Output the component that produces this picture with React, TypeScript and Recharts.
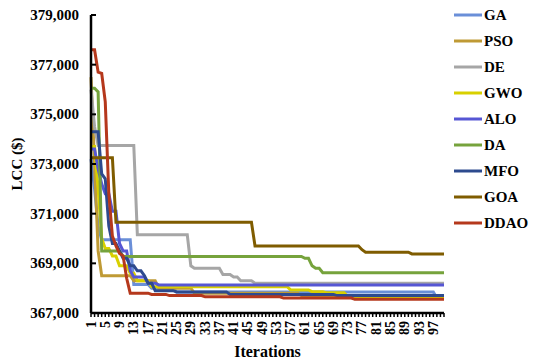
import { Label, Legend, Line, LineChart, XAxis, YAxis } from 'recharts'

// convergence curves
// each series is a list of [iteration, LCC] steps: the value holds until the next step
const iterations = Array.from({ length: 100 }, (_, i) => i + 1)
const yTicks = [367000, 369000, 371000, 373000, 375000, 377000, 379000]

const gaSteps = [
  [1, 373200], [2, 372000], [3, 370500], [4, 369950], [13, 368150],
  [18, 368000], [25, 367850], [98, 367600],
]
const psoSteps = [
  [1, 376500], [2, 373000], [3, 369500], [4, 368500], [13, 368300],
  [20, 368000], [30, 367800], [60, 367700], [75, 367650],
]
const deSteps = [
  [1, 376000], [2, 374500], [3, 373750], [14, 370150], [29, 368900],
  [30, 368800], [38, 368550], [41, 368450], [43, 368300], [47, 368200],
]
const gwoSteps = [
  [1, 373700], [3, 372000], [4, 370000], [5, 369600], [7, 369300],
  [9, 368900], [12, 368600], [14, 368300], [18, 368060], [57, 367930],
  [63, 367860], [67, 367820], [73, 367660],
]
const aloSteps = [
  [1, 373600], [3, 372800], [4, 372200], [5, 371800], [7, 371100],
  [9, 369800], [10, 369500], [12, 368700], [13, 368450], [17, 368200],
  [20, 368130],
]
const daSteps = [
  [1, 376050], [3, 375900], [4, 369500], [10, 369280], [61, 369200],
  [63, 368900], [64, 368800], [66, 368620],
]
const mfoSteps = [
  [1, 374300], [4, 372600], [5, 372400], [6, 370500], [7, 369800],
  [9, 369500], [10, 369200], [12, 368900], [14, 368700], [16, 368500],
  [17, 368200], [19, 367900], [25, 367850], [40, 367750], [70, 367700],
]
const goaSteps = [
  [1, 373250], [8, 370650], [47, 369700], [77, 369550], [78, 369450],
  [91, 369380],
]
const ddaoSteps = [
  [1, 377600], [3, 376700], [4, 376650], [5, 375500], [6, 371800],
  [7, 370100], [8, 369700], [9, 369400], [10, 369300], [11, 368400],
  [12, 367800], [18, 367750], [23, 367700], [33, 367650], [55, 367600],
  [75, 367550],
]

const seriesNames = ['GA', 'PSO', 'DE', 'GWO', 'ALO', 'DA', 'MFO', 'GOA', 'DDAO']
const seriesSteps = [gaSteps, psoSteps, deSteps, gwoSteps, aloSteps, daSteps, mfoSteps, goaSteps, ddaoSteps]
const seriesColors = ['#6A8FD8', '#BF9A35', '#A6A6A6', '#D8D000', '#5656D4', '#76A33C', '#2D4A8E', '#7F5C00', '#B5381C']

const hold = (steps: number[][]) =>
  iterations.map((it) => {
    let v = steps[0][1]
    for (const [s, val] of steps) if (it >= s) v = val
    return v
  })

const expanded = seriesSteps.map(hold)
const data = iterations.map((it, i) => {
  const row: Record<string, number> = { iter: it }
  seriesNames.forEach((n, k) => (row[n] = expanded[k][i]))
  return row
})

const font = "'Times New Roman', 'Liberation Serif', serif"

const XTick = (props: any) => {
  const { x, y, payload } = props
  if ((payload.value - 1) % 4 !== 0) return null
  return (
    <text x={x} y={y} transform={`rotate(-90 ${x} ${y})`} textAnchor='end' dominantBaseline='central'
      fontFamily={font} fontWeight='bold' fontSize={14} fill='#000'>
      {payload.value}
    </text>
  )
}

const YTick = (props: any) => {
  const { x, y, payload } = props
  return (
    <g>
      <line x1={x + 12} x2={x + 17} y1={y} y2={y} stroke='#000' strokeWidth={2} />
      <text x={x} y={y} textAnchor='end' dominantBaseline='central'
        fontFamily={font} fontWeight='bold' fontSize={15} fill='#000'>
        {payload.value.toLocaleString('en-US')}
      </text>
    </g>
  )
}

const LegendBox = () => (
  <div style={{ fontFamily: font, fontWeight: 'bold', fontSize: 15 }}>
    {seriesNames.map((n, k) => (
      <div key={n} style={{ height: 26, display: 'flex', alignItems: 'center' }}>
        <svg width={28} height={4} style={{ marginRight: 2 }}>
          <line x1={0} x2={28} y1={2} y2={2} stroke={seriesColors[k]} strokeWidth={3} />
        </svg>
        <span>{n}</span>
      </div>
    ))}
  </div>
)

export default function App() {
  return (
    <div style={{ position: 'absolute', left: 0, top: 0, background: '#fff' }}>
      <LineChart width={550} height={362} data={data} margin={{ top: 15, right: 10, bottom: 5, left: 0 }}>
        <XAxis dataKey='iter' interval={0} tick={<XTick />} tickSize={4} tickMargin={4}
          stroke='#000' axisLine={{ stroke: '#000', strokeWidth: 2.5 }} tickLine={{ stroke: '#000', strokeWidth: 1.5 }}
          height={44}>
          <Label value='Iterations' position='insideBottom' offset={0}
            style={{ fontFamily: font, fontWeight: 'bold', fontSize: 16, fill: '#000' }} />
        </XAxis>
        <YAxis domain={[367000, 379000]} ticks={yTicks} interval={0} width={91} tickSize={0} tickMargin={12}
          tickLine={false} tick={<YTick />} axisLine={{ stroke: '#000', strokeWidth: 2.5 }}>
          <Label content={() => (
            <text x={17} y={164} transform='rotate(-90 17 164)' textAnchor='middle' dominantBaseline='central'
              fontFamily={font} fontWeight='bold' fontSize={15} fill='#000'>
              LCC ($)
            </text>
          )} />
        </YAxis>
        <Legend layout='vertical' verticalAlign='top' align='right' content={<LegendBox />}
          wrapperStyle={{ left: 454, top: 2, width: 96 }} />
        {seriesNames.map((n, k) => (
          <Line key={n} dataKey={n} stroke={seriesColors[k]} strokeWidth={3}
            dot={false} type='linear' isAnimationActive={false} />
        ))}
      </LineChart>
    </div>
  )
}
